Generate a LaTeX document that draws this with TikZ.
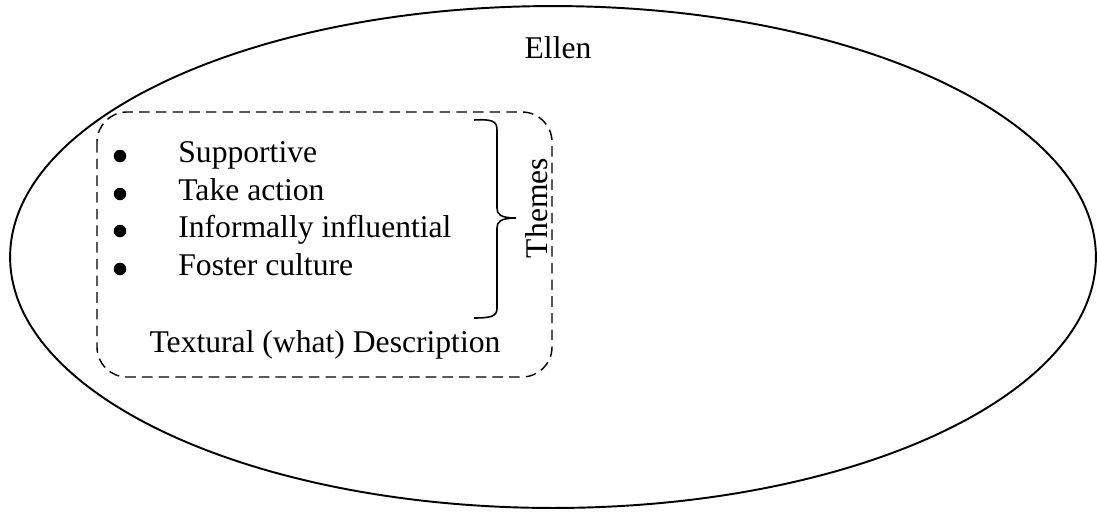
\documentclass[tikz,border=0pt]{standalone}
\usepackage{fontspec}
\setmainfont{Liberation Serif}
\begin{document}
\begin{tikzpicture}[x=0.02cm,y=-0.02cm,
  txt/.style={font=\fontsize{18}{21}\selectfont, inner sep=0pt},
  dot/.style={circle, fill=black, inner sep=0pt, minimum size=0.25cm},
  group/.style={draw, dashed, dash pattern=on 6pt off 3.5pt, line width=0.8pt, rounded corners=0.6cm},
  bracket/.style={draw, line width=0.9pt}
]
\useasboundingbox (0,0) rectangle (1097,512);
% outer ellipse
\draw[line width=1.1pt] (553,257) ellipse [x radius=10.86cm, y radius=5.02cm];
\node[txt, anchor=base] (ellen) at (558,58) {Ellen};
% dashed group box
\draw[group] (97,112) rectangle (552,377);
% bullet list
\foreach \i/\t/\y in {1/Supportive/162, 2/Take action/200, 3/Informally influential/237, 4/Foster culture/275}{
  \node[dot] (b\i) at (120,\y-6) {};
  \node[txt, anchor=base west] (t\i) at (178,\y) {\t};
}
\node[txt, anchor=base] (desc) at (325,352) {Textural (what) Description};
% right brace grouping the themes
\coordinate (btop) at (474,120);
\coordinate (bbot) at (474,318);
\coordinate (btip) at (516,218);
\draw[bracket] (btop) .. controls (492,119) and (497,121) .. (497,130)
  -- (497,208) .. controls (497,214) and (500,218) .. (btip)
  .. controls (500,218) and (497,222) .. (497,228)
  -- (497,308) .. controls (497,316) and (492,318) .. (bbot);
\node[txt, rotate=90, anchor=base] (themes) at (547,208) {Themes};
\end{tikzpicture}
\end{document}
